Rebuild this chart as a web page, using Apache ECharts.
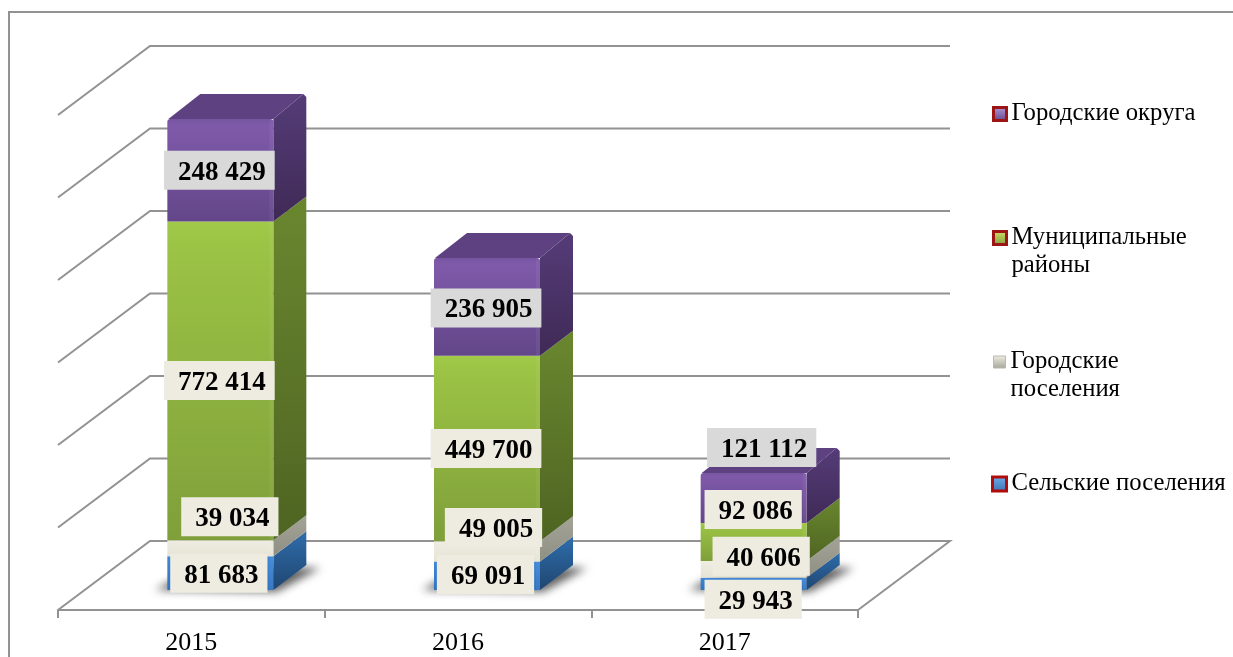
<!DOCTYPE html>
<html>
<head>
<meta charset="utf-8">
<style>
  html, body { margin: 0; padding: 0; background: #fff; }
  #chart { width: 1233px; height: 657px; }
</style>
<script src="https://cdn.jsdelivr.net/npm/echarts@6/dist/echarts.min.js"></script>
</head>
<body>
<div id="chart"></div>
<script>
const years = ['2015', '2016', '2017'];
const selskie = [81683, 69091, 29943];
const gorodskie = [39034, 49005, 40606];
const municipal = [772414, 449700, 92086];
const okruga = [248429, 236905, 121112];
const yTicks = [0, 200000, 400000, 600000, 800000, 1000000, 1200000];

const FONT = '"Liberation Serif", "Times New Roman", serif';
const LABEL_FONT = 'bold 27px ' + FONT;
const GRID_COLOR = '#929292';

// floor depth of the fake 3d box, and where the columns sit inside it
const DEPTH_X = 92, DEPTH_Y = 69;
const BAR_SHIFT_X = 29, BAR_SHIFT_Y = 20;
const BAR_W = 106, BAR_DX = 33, BAR_DY = 25;
const CUT = 3;
// the shadow shape is drawn off canvas so only its blur lands on the floor
const OFF = 3000;

function grad(c0, c1, c2) {
  return {
    type: 'linear', x: 0, y: 0, x2: 0, y2: 1,
    colorStops: c2
      ? [{ offset: 0, color: c0 }, { offset: 0.06, color: c1 }, { offset: 1, color: c2 }]
      : [{ offset: 0, color: c0 }, { offset: 1, color: c1 }],
  };
}

const layers = [
  { name: 'Сельские поселения', values: selskie,
    front: grad('#3f87d6', '#2f72bf'), side: grad('#2f6dab', '#1f4671'), top: '#2f6dab',
    labelBg: '#eeece1', icon: grad('#6fb0ee', '#3a6fb0'), iconBorder: '#b00c0c' },
  { name: 'Городские поселения', values: gorodskie,
    front: grad('#efece2', '#e6e3d6'), side: grad('#a3a398', '#8f8f84'), top: '#a3a398',
    labelBg: '#eeece1', icon: grad('#f0eee4', '#a5a598'), iconBorder: '#b9b9ae' },
  { name: 'Муниципальные районы', values: municipal,
    front: grad('#a2ca4a', '#9cc445', '#7f9f3a'), side: grad('#6a872f', '#4e6422'), top: '#6a872f',
    labelBg: '#eeece1', icon: grad('#d5e26a', '#7c9c3a'), iconBorder: '#9c1414' },
  { name: 'Городские округа', values: okruga,
    front: grad('#7555a0', '#7f5aaa', '#634689'), side: grad('#553c78', '#3f2a56'), top: '#5d4180',
    labelBg: '#d9d9d9', icon: grad('#b79be0', '#5d4180'), iconBorder: '#9c1414' },
];

// hand-moved data labels of the original, px from the middle of the segment
const labelShift = [
  [[-1.5, 0], [-1.5, -1], [-0.5, 15.5]],
  [[9.5, -31.5], [6.5, -24], [7.5, -13]],
  [[-1, -0.5], [-1, 0], [-0.5, -32.5]],
  [[-1, 0], [-1, 1], [8, -50.5]],
];

const fmt = v => String(v).replace(/\B(?=(\d{3})+$)/g, ' ');

const measureCtx = document.createElement('canvas').getContext('2d');
measureCtx.font = LABEL_FONT;

function barBase(api) {
  const p = api.coord([api.value(0), 0]);
  return p[0] + BAR_SHIFT_X;
}

function renderGrid(params, api) {
  const cs = params.coordSys;
  const y = api.coord([0, api.value(0)])[1];
  const pts = [[cs.x, y], [cs.x + DEPTH_X, y - DEPTH_Y], [cs.x + cs.width + DEPTH_X, y - DEPTH_Y]];
  if (api.value(0) === 0) pts.push([cs.x + cs.width, y]);
  return {
    type: 'polyline',
    shape: { points: pts },
    style: { fill: 'none', stroke: GRID_COLOR, lineWidth: 2 },
  };
}

function renderShadow(params, api) {
  const cx = barBase(api);
  const y = api.coord([0, 0])[1] - BAR_SHIFT_Y;
  const x0 = cx - BAR_W / 2 - OFF, x1 = cx + BAR_W / 2 - OFF;
  return {
    type: 'polygon',
    shape: { points: [[x0 - 12, y], [x1 + 3, y + 2], [x1 + BAR_DX + 14, y - BAR_DY + 3], [x0 + BAR_DX, y - BAR_DY]] },
    style: { fill: '#000', shadowBlur: 9, shadowOffsetX: OFF, shadowColor: 'rgba(0,0,0,0.62)' },
  };
}

function makeRenderLayer(layer, isTop) {
  return function (params, api) {
    const cx = barBase(api);
    const yb = api.coord([0, api.value(1)])[1] - BAR_SHIFT_Y;
    const yt = api.coord([0, api.value(2)])[1] - BAR_SHIFT_Y;
    const x0 = cx - BAR_W / 2, x1 = cx + BAR_W / 2;
    const xb = x1 + BAR_DX, cut = isTop ? CUT : 0;
    const children = [
      {
        type: 'polygon',
        shape: { points: [[x1, yb], [xb, yb - BAR_DY], [xb, yt - BAR_DY + cut], [xb - cut, yt - BAR_DY], [x1, yt]] },
        style: { fill: layer.side },
      },
      {
        type: 'rect',
        shape: { x: x0, y: yt, width: BAR_W, height: yb - yt, r: isTop ? [CUT, CUT, 0, 0] : 0 },
        style: { fill: layer.front },
      },
      {
        type: 'rect',
        shape: { x: x1 - 4, y: yt, width: 4, height: yb - yt },
        style: { fill: 'rgba(255,255,255,0.05)' },
      },
    ];
    if (isTop) {
      children.push({
        type: 'polygon',
        shape: { points: [[x0 + 1, yt], [x1, yt], [xb - cut, yt - BAR_DY], [x0 + BAR_DX, yt - BAR_DY]] },
        style: { fill: layer.top },
      });
    }
    return { type: 'group', children };
  };
}

function renderLabel(params, api) {
  const s = api.value(1), i = api.value(0);
  const cx = barBase(api);
  const yb = api.coord([0, api.value(2)])[1] - BAR_SHIFT_Y;
  const yt = api.coord([0, api.value(3)])[1] - BAR_SHIFT_Y;
  const shift = labelShift[s][i];
  const text = fmt(api.value(3) - api.value(2));
  const bx = cx + shift[0], by = (yb + yt) / 2 + shift[1];
  const w = measureCtx.measureText(text).width + 23;
  return {
    type: 'group',
    children: [
      {
        type: 'rect',
        shape: { x: bx - w / 2, y: by - 19.5, width: w, height: 39 },
        style: { fill: layers[s].labelBg },
      },
      {
        type: 'text',
        style: {
          x: bx + 2.5,
          y: by + 2.5,
          text,
          font: LABEL_FONT,
          fill: '#000',
          align: 'center',
          verticalAlign: 'middle',
        },
      },
    ],
  };
}

const stackRows = [];
const stackSeries = layers.map((layer, s) => {
  const rows = years.map((y, i) => {
    const base = layers.slice(0, s).reduce((sum, l) => sum + l.values[i], 0);
    return [i, base, base + layer.values[i]];
  });
  rows.forEach(r => stackRows.push([r[0], s, r[1], r[2]]));
  return {
    name: layer.name,
    type: 'custom',
    z: 3 + s,
    clip: false,
    silent: true,
    renderItem: makeRenderLayer(layer, s === layers.length - 1),
    data: rows,
  };
});

// the legend keeps its icon on the first line: the leading blank line centres it there
const legendText = {
  'Муниципальные районы': '\nМуниципальные\nрайоны',
  'Городские поселения': '\nГородские\nпоселения',
};

function legendFor(layer, left, top, size, border) {
  return {
    left, top,
    padding: 0,
    orient: 'vertical',
    selectedMode: false,
    itemWidth: size, itemHeight: size,
    data: [{
      name: layer.name,
      icon: 'rect',
      itemStyle: { color: layer.icon, borderColor: layer.iconBorder, borderWidth: border },
    }],
    formatter: name => legendText[name] || name,
    textStyle: { fontFamily: FONT, fontSize: 24.7, color: '#000', lineHeight: 28 },
  };
}

const chart = echarts.init(document.getElementById('chart'), null, { renderer: 'canvas' });

chart.setOption({
  animation: false,
  backgroundColor: '#fff',
  graphic: [{
    type: 'rect',
    z: 0,
    silent: true,
    shape: { x: 9, y: 12, width: 1400, height: 800 },
    style: { fill: 'none', stroke: GRID_COLOR, lineWidth: 2 },
  }],
  legend: [
    legendFor(layers[3], 992, 100, 13, 3),
    legendFor(layers[2], 992, 196, 13, 3),
    legendFor(layers[1], 993, 320, 12, 1),
    legendFor(layers[0], 991, 470, 14, 3),
  ],
  grid: { left: 58, top: 115, width: 800, height: 495 },
  xAxis: {
    type: 'category',
    data: years,
    axisLine: { lineStyle: { color: GRID_COLOR, width: 2 } },
    axisTick: { show: true, alignWithLabel: false, length: 8, lineStyle: { color: GRID_COLOR, width: 2 } },
    axisLabel: { fontFamily: FONT, fontSize: 26, color: '#000', margin: 20 },
    z: 2,
  },
  yAxis: { type: 'value', min: 0, max: 1200000, interval: 200000, show: false },
  series: [
    { type: 'custom', z: 1, clip: false, silent: true, renderItem: renderGrid,
      data: yTicks.map(v => [v]), encode: { y: 0 } },
    { type: 'custom', z: 2, clip: false, silent: true, renderItem: renderShadow,
      data: years.map((y, i) => [i]) },
    ...stackSeries,
    { type: 'custom', z: 10, clip: false, silent: true, renderItem: renderLabel, data: stackRows },
  ],
});
</script>
</body>
</html>
